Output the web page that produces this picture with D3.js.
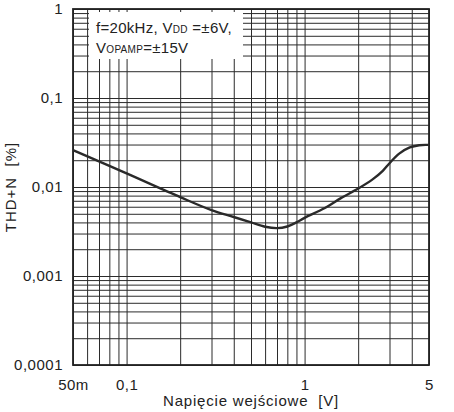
<!DOCTYPE html>
<html>
<head>
<meta charset="utf-8">
<script src="https://cdn.jsdelivr.net/npm/d3@7"></script>
<style>
  body { margin: 0; background: #fff; }
  text { font-family: "Liberation Sans", Arial, sans-serif; fill: #222; }
</style>
</head>
<body>
<script>
// values
const voltage = [0.05, 0.1, 0.2, 0.3, 0.4, 0.5, 0.6, 0.7, 0.8, 0.9, 1.0, 1.3, 1.6, 2.0, 2.4, 2.75, 3.0, 3.4, 3.9, 4.4, 5.0];
const thd     = [0.026, 0.0142, 0.0077, 0.0055, 0.0046, 0.0040, 0.00358, 0.00345, 0.0036, 0.0040, 0.0045, 0.0058, 0.0075, 0.0096, 0.0121, 0.0152, 0.0185, 0.0237, 0.0278, 0.0295, 0.0297];

const xTickValues = [0.05, 0.1, 1, 5];
const xTickLabels = ["50m", "0,1", "1", "5"];
const yTickValues = [1, 0.1, 0.01, 0.001, 0.0001];
const yTickLabels = ["1", "0,1", "0,01", "0,001", "0,0001"];

const data = voltage.map((v, i) => ({v: v, thd: thd[i]}));

var margin = {top: 9, right: 25, bottom: 47, left: 73},
    width = 454 - margin.left - margin.right,
    height = 412 - margin.top - margin.bottom;

var x = d3.scaleLog().domain([0.05, 5]).range([0, width]);
var y = d3.scaleLog().domain([0.0001, 1]).range([height, 0]);

var svg = d3.select("body").append("svg")
    .attr("width", 454)
    .attr("height", 412)
  .append("g")
    .attr("transform", "translate(" + margin.left + "," + margin.top + ")");

// grid (every 1..9 of each decade)
svg.append("g")
    .attr("transform", "translate(0," + height + ")")
    .call(d3.axisBottom(x).tickValues(x.ticks()).tickSize(-height).tickFormat(""))
    .call(g => g.select(".domain").remove())
    .call(g => g.selectAll("line").attr("stroke", "#2b2b2b").attr("stroke-width", 1));

svg.append("g")
    .call(d3.axisLeft(y).tickValues(y.ticks()).tickSize(-width).tickFormat(""))
    .call(g => g.select(".domain").remove())
    .call(g => g.selectAll("line").attr("stroke", "#2b2b2b").attr("stroke-width", 1));

// white box behind the annotation
svg.append("rect")
    .attr("x", 16)
    .attr("y", 3)
    .attr("width", 154)
    .attr("height", 47)
    .attr("fill", "#fff");

// frame
svg.append("rect")
    .attr("width", width)
    .attr("height", height)
    .attr("fill", "none")
    .attr("stroke", "#222")
    .attr("stroke-width", 1.8);

// curve
var line = d3.line()
    .x(d => x(d.v))
    .y(d => y(d.thd))
    .curve(d3.curveCatmullRom.alpha(0.5));

svg.append("path")
    .datum(data)
    .attr("fill", "none")
    .attr("stroke", "#2a2a2a")
    .attr("stroke-width", 2.4)
    .attr("stroke-linejoin", "round")
    .attr("d", line);

// tick labels
svg.append("g")
    .attr("transform", "translate(0," + height + ")")
    .call(d3.axisBottom(x).tickValues(xTickValues).tickSize(0).tickPadding(14)
      .tickFormat((d, i) => xTickLabels[i]))
    .call(g => g.select(".domain").remove())
    .call(g => g.selectAll("text").attr("font-size", 15).attr("letter-spacing", 0.5));

svg.append("g")
    .call(d3.axisLeft(y).tickValues(yTickValues).tickSize(0).tickPadding(10)
      .tickFormat((d, i) => yTickLabels[i]))
    .call(g => g.select(".domain").remove())
    .call(g => g.selectAll("text").attr("font-size", 15).attr("letter-spacing", 0.5));

// axis titles
svg.append("text")
    .attr("x", width / 2)
    .attr("y", height + 41)
    .attr("text-anchor", "middle")
    .attr("font-size", 15)
    .attr("letter-spacing", 0.8)
    .style("white-space", "pre")
    .text("Napięcie wejściowe  [V]");

svg.append("text")
    .attr("transform", "translate(" + (-57) + "," + (height / 2) + ") rotate(-90)")
    .attr("text-anchor", "middle")
    .attr("font-size", 15)
    .attr("letter-spacing", 1)
    .style("white-space", "pre")
    .text("THD+N  [%]");

// annotation
var note = svg.append("text")
    .attr("x", 23)
    .attr("y", 24)
    .attr("font-size", 15)
    .attr("letter-spacing", 0.3)
    .style("white-space", "pre");
note.append("tspan").text("f=20kHz, V");
note.append("tspan").attr("font-size", 10).text("DD");
note.append("tspan").text(" =±6V,");

var note2 = svg.append("text")
    .attr("x", 23)
    .attr("y", 44)
    .attr("font-size", 15)
    .attr("letter-spacing", 0.3);
note2.append("tspan").text("V");
note2.append("tspan").attr("font-size", 10).text("OPAMP");
note2.append("tspan").text("=±15V");
</script>
</body>
</html>
